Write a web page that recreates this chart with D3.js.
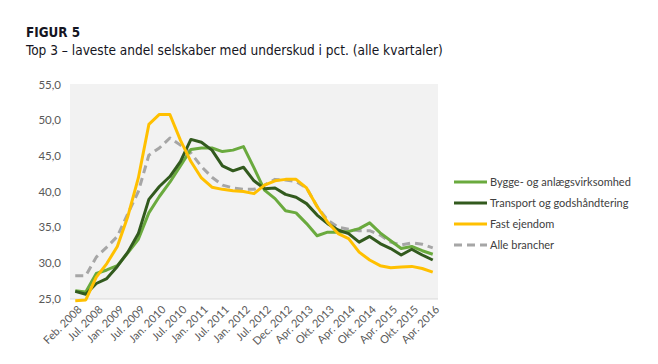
<!DOCTYPE html>
<html>
<head>
<meta charset="utf-8">
<script src="https://cdn.jsdelivr.net/npm/d3@7/dist/d3.min.js"></script>
<style>
  html, body { margin: 0; padding: 0; background: #ffffff; }
  svg { display: block; }
</style>
</head>
<body>
<svg id="chart" width="658" height="364"></svg>
<script>
// ---- DATA ----
const categories = [
  "Feb. 2008", "Apr. 2008", "Jul. 2008", "Okt. 2008", "Jan. 2009", "Apr. 2009",
  "Jul. 2009", "Okt. 2009", "Jan. 2010", "Apr. 2010", "Jul. 2010", "Okt. 2010",
  "Jan. 2011", "Apr. 2011", "Jul. 2011", "Okt. 2011", "Jan. 2012", "Apr. 2012",
  "Jul. 2012", "Okt. 2012", "Dec. 2012", "Feb. 2013", "Apr. 2013", "Jul. 2013",
  "Okt. 2013", "Jan. 2014", "Apr. 2014", "Jul. 2014", "Okt. 2014", "Jan. 2015",
  "Apr. 2015", "Jul. 2015", "Okt. 2015", "Jan. 2016", "Apr. 2016"
];
const xTickLabels = [
  "Feb. 2008", "Jul. 2008", "Jan. 2009", "Jul. 2009", "Jan. 2010", "Jul. 2010",
  "Jan. 2011", "Jul. 2011", "Jan. 2012", "Jul. 2012", "Dec. 2012", "Apr. 2013",
  "Okt. 2013", "Apr. 2014", "Okt. 2014", "Apr. 2015", "Okt. 2015", "Apr. 2016"
];
const yTicks = [25, 30, 35, 40, 45, 50, 55];

const bygge = [26.1, 25.9, 28.5, 29.0, 29.6, 31.4, 33.3, 37.0, 39.3, 41.3, 43.6, 45.9,
  46.1, 46.1, 45.6, 45.8, 46.3, 43.3, 40.2, 39.0, 37.3, 37.0, 35.5, 33.8,
  34.3, 34.3, 34.4, 34.8, 35.6, 34.2, 33.1, 32.0, 32.3, 31.7, 31.2];
const transport = [26.0, 25.6, 27.1, 27.8, 29.5, 31.5, 34.1, 38.9, 40.7, 42.1, 44.2, 47.3,
  46.9, 45.8, 43.6, 42.9, 43.4, 41.5, 40.4, 40.5, 39.6, 39.2, 38.3, 36.7,
  35.5, 34.6, 34.1, 32.9, 33.7, 32.7, 32.0, 31.1, 31.9, 31.1, 30.4];
const fastEjendom = [24.7, 24.8, 28.0, 29.9, 32.3, 36.5, 41.9, 49.4, 50.8, 50.8, 47.2, 44.2,
  41.9, 40.6, 40.3, 40.1, 40.0, 39.7, 40.9, 41.5, 41.7, 41.7, 40.5, 37.9,
  35.7, 34.1, 33.4, 31.5, 30.4, 29.6, 29.3, 29.4, 29.5, 29.2, 28.7];
const alleBrancher = [28.2, 28.2, 30.8, 32.2, 33.7, 36.9, 40.0, 45.1, 46.1, 47.5, 46.5, 45.4,
  43.5, 42.0, 40.9, 40.5, 40.3, 40.3, 40.9, 41.7, 41.6, 41.4, 40.5, 37.9,
  36.0, 35.0, 34.7, 34.5, 34.5, 33.9, 32.9, 32.5, 32.8, 32.6, 32.1];

const seriesNames = ["Bygge- og anlægsvirksomhed", "Transport og godshåndtering", "Fast ejendom", "Alle brancher"];
const seriesColors = ["#6aaa3e", "#325a1e", "#ffc000", "#a6a6a6"];

// ---- LAYOUT ----
const svg = d3.select("#chart");
const plot = { left: 70, right: 438, top: 84.5, bottom: 298.5 };

const x = d3.scalePoint().domain(categories).range([plot.left, plot.right]).padding(0.5);
const y = d3.scaleLinear().domain([25, 55]).range([plot.bottom, plot.top]);

const titleFont = "'DejaVu Sans Condensed', 'DejaVu Sans', Verdana, sans-serif";

// Title
const ttl = svg.append("text")
  .attr("x", 26).attr("y", 37)
  .attr("font-family", titleFont)
  .attr("font-weight", "bold")
  .attr("font-size", 15.5)
  .attr("fill", "#151522")
  .text("FIGUR 5");
{
  const w = ttl.node().getComputedTextLength();
  ttl.attr("font-size", 15.5 * 54 / w);
}

const sub = svg.append("text")
  .attr("x", 26).attr("y", 55)
  .attr("font-family", titleFont)
  .attr("font-size", 15.5)
  .attr("fill", "#151522")
  .text("Top 3 \u2013 laveste andel selskaber med underskud i pct. (alle kvartaler)");
// fit subtitle width to reference span
{
  const w = sub.node().getComputedTextLength();
  sub.attr("font-size", 15.5 * 417 / w);
}

// Plot background
svg.append("rect")
  .attr("x", plot.left).attr("y", plot.top - 0.5)
  .attr("width", plot.right - plot.left).attr("height", plot.bottom - plot.top + 1)
  .attr("fill", "#f2f2f2");
svg.append("line")
  .attr("x1", plot.left).attr("x2", plot.right)
  .attr("y1", plot.bottom + 0.5).attr("y2", plot.bottom + 0.5)
  .attr("stroke", "#d9d9d9").attr("stroke-width", 1);

// Y axis
const yAxis = svg.append("g")
  .attr("transform", `translate(${plot.left - 9},0)`)
  .call(d3.axisLeft(y).tickValues(yTicks).tickSize(0)
    .tickFormat(d => d3.format(".1f")(d).replace(".", ",")));
yAxis.select(".domain").remove();
yAxis.selectAll("text")
  .attr("font-family", "Lato, 'Open Sans', sans-serif")
  .attr("font-size", 11.5)
  .attr("fill", "#595959")
  .attr("x", 0);

// X axis
const xAxis = svg.append("g")
  .attr("transform", `translate(0,${plot.bottom})`)
  .call(d3.axisBottom(x).tickValues(xTickLabels).tickSize(0));
xAxis.select(".domain").remove();
xAxis.selectAll("text")
  .attr("font-family", "Lato, 'Open Sans', sans-serif")
  .attr("font-size", 11)
  .attr("fill", "#595959")
  .attr("text-anchor", "end")
  .attr("dy", "0.35em")
  .attr("y", 0)
  .attr("transform", "translate(4,9) rotate(-45)");

// Lines
const allSeries = [bygge, transport, fastEjendom, alleBrancher];
const line = d3.line()
  .x((d, i) => x(categories[i]))
  .y(d => y(d));

[3, 0, 1, 2].forEach(k => {
  svg.append("path")
    .datum(allSeries[k])
    .attr("fill", "none")
    .attr("stroke", seriesColors[k])
    .attr("stroke-width", 3)
    .attr("stroke-linejoin", "round")
    .attr("stroke-dasharray", k === 3 ? "8,5" : null)
    .attr("d", line);
});

// Legend
const legend = svg.append("g");
const legendY = [182, 203, 224, 245];
seriesNames.forEach((name, k) => {
  legend.append("line")
    .attr("x1", 454).attr("x2", 487)
    .attr("y1", legendY[k]).attr("y2", legendY[k])
    .attr("stroke", seriesColors[k])
    .attr("stroke-width", 3)
    .attr("stroke-dasharray", k === 3 ? "8,5" : null);
  legend.append("text")
    .attr("x", 490).attr("y", legendY[k])
    .attr("dy", "0.35em")
    .attr("font-family", "Lato, 'Open Sans', sans-serif")
    .attr("font-size", 11)
    .attr("fill", "#404040")
    .text(name);
});
</script>
</body>
</html>
